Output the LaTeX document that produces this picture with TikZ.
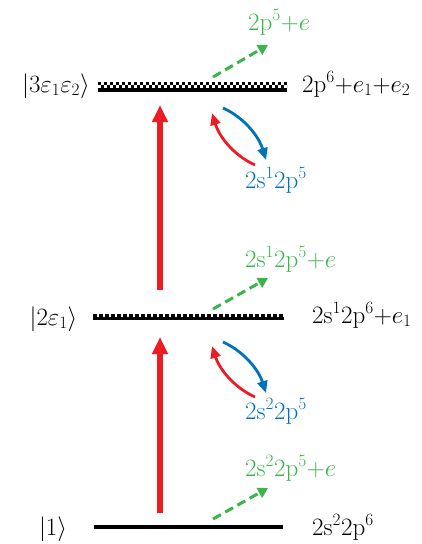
\documentclass[tikz,border=0pt]{standalone}
\usetikzlibrary{arrows.meta}
\definecolor{myred}{RGB}{237,28,36}
\definecolor{myblue}{RGB}{0,114,188}
\definecolor{mygreen}{RGB}{57,181,74}
\begin{document}
\begin{tikzpicture}[x=1pt,y=-1pt,
  lbl/.style={inner sep=0pt, font=\fontsize{25}{30}\selectfont},
  solidlevel/.style={line width=3.5pt},
  checkrow/.style={line width=3pt, dash pattern=on 3pt off 3pt},
  bigup/.style={myred, line width=5.5pt, -{Triangle[width=15pt,length=17pt]}},
  decay/.style={mygreen, line width=3pt, dash pattern=on 9pt off 5pt, -{Triangle[width=11pt,length=10pt]}},
  redup/.style={myred, line width=2.8pt, -{Triangle[width=10pt,length=12pt]}},
  bluedown/.style={myblue, line width=2.8pt, -{Triangle[width=10pt,length=12pt]}}]
\useasboundingbox (0,0) rectangle (422,544);

% level 1
\coordinate (l1a) at (94,527); \coordinate (l1b) at (283,527);
\draw[solidlevel] (l1a) -- (l1b);
% level 2
\coordinate (l2a) at (93,318.5); \coordinate (l2b) at (284,318.5);
\coordinate (l2ta) at (93,315.5); \coordinate (l2tb) at (284,315.5);
\draw[solidlevel] (l2a) -- (l2b);
\draw[line width=3pt, dash pattern=on 3.5pt off 2.5pt] (l2ta) -- (l2tb);
% level 3
\coordinate (l3a) at (98,90); \coordinate (l3b) at (287,90);
\coordinate (l3ma) at (98,86.7); \coordinate (l3mb) at (287,86.7);
\coordinate (l3ta) at (98,83.7); \coordinate (l3tb) at (287,83.7);
\draw[solidlevel] (l3a) -- (l3b);
\draw[checkrow] (l3ta) -- (l3tb);
\draw[checkrow, dash phase=3pt] (l3ma) -- (l3mb);

% left labels
\node[lbl, anchor=base] (k1) at (53,535) {$|1\rangle$};
\node[lbl, anchor=base] (k2) at (53.5,325) {$|2\varepsilon_1\rangle$};
\node[lbl, anchor=base] (k3) at (56,92) {$|3\varepsilon_1\varepsilon_2\rangle$};
% right labels
\node[lbl, anchor=base west] (c1) at (312,535) {2s$^2$2p$^6$};
\node[lbl, anchor=base west] (c2) at (312,323) {2s$^1$2p$^6${+}$e_1$};
\node[lbl, anchor=base west] (c3) at (302,92) {2p$^6${+}$e_1${+}$e_2$};

% big red excitation arrows
\coordinate (r1s) at (160,513); \coordinate (r1e) at (160,337);
\coordinate (r2s) at (160,290); \coordinate (r2e) at (160,105);
\draw[bigup] (r1s) -- (r1e);
\draw[bigup] (r2s) -- (r2e);

% green decay arrows and labels
\coordinate (g1s) at (213,519); \coordinate (g1e) at (268,488);
\coordinate (g2s) at (213,309); \coordinate (g2e) at (268,278);
\coordinate (g3s) at (213,77);  \coordinate (g3e) at (268,45);
\draw[decay] (g1s) -- (g1e);
\draw[decay] (g2s) -- (g2e);
\draw[decay] (g3s) -- (g3e);
\node[lbl, anchor=base west, text=mygreen] (d1) at (245,476) {2s$^2$2p$^5${+}$e$};
\node[lbl, anchor=base west, text=mygreen] (d2) at (245,267) {2s$^1$2p$^5${+}$e$};
\node[lbl, anchor=base west, text=mygreen] (d3) at (248,30) {2p$^5${+}$e$};

% coupling arrows level 3
\coordinate (b3s) at (223,108); \coordinate (b3e) at (266,160);
\coordinate (q3s) at (255,165); \coordinate (q3e) at (212,113);
\draw[bluedown] (b3s) .. controls (245,118) and (259,137) .. (b3e);
\draw[redup] (q3s) .. controls (233,155) and (219,136) .. (q3e);
\node[lbl, anchor=base west, text=myblue] (m3) at (245,188) {2s$^1$2p$^5$};
% coupling arrows level 2
\coordinate (b2s) at (223,342); \coordinate (b2e) at (266,393);
\coordinate (q2s) at (255,397); \coordinate (q2e) at (212,346);
\draw[bluedown] (b2s) .. controls (245,352) and (259,371) .. (b2e);
\draw[redup] (q2s) .. controls (233,387) and (219,368) .. (q2e);
\node[lbl, anchor=base west, text=myblue] (m2) at (245,419) {2s$^2$2p$^5$};
\end{tikzpicture}
\end{document}
